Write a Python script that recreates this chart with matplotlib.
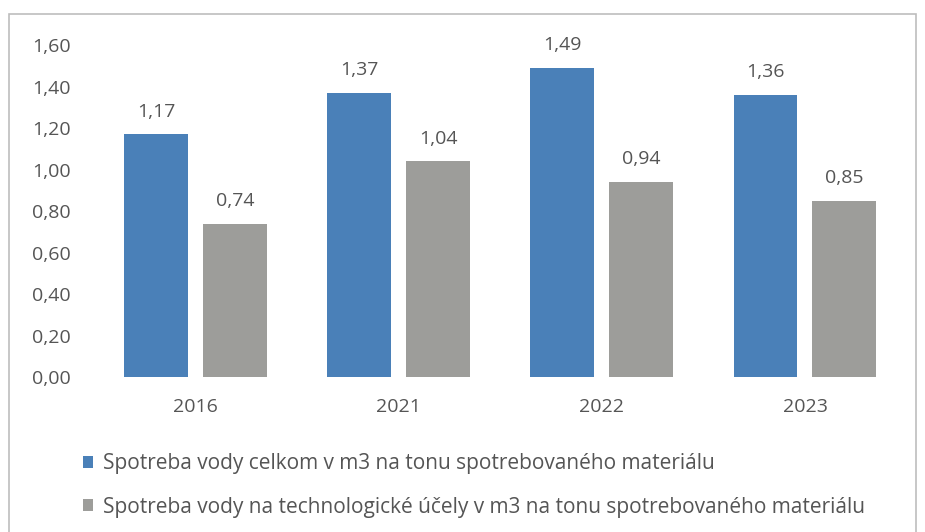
import numpy as np
import matplotlib.pyplot as plt
from matplotlib.patches import Rectangle

years = ["2016", "2021", "2022", "2023"]
total = [1.17, 1.37, 1.49, 1.36]
techno = [0.74, 1.04, 0.94, 0.85]
yticks = [0.0, 0.2, 0.4, 0.6, 0.8, 1.0, 1.2, 1.4, 1.6]
labels = ["Spotreba vody celkom v m3 na tonu spotrebovaného materiálu",
          "Spotreba vody na technologické účely v m3 na tonu spotrebovaného materiálu"]

blue = "#4a80b8"
gray = "#9d9d9a"
txt = "#555555"

plt.rcParams['font.family'] = ['Open Sans', 'DejaVu Sans']

fig = plt.figure(figsize=(9.25, 5.32), dpi=100)
ax = fig.add_axes([0.102, 0.291, 0.878, 0.624])

x = np.arange(len(years))
w = 0.315
b1 = ax.bar(x - w/2 - 0.037, total, w, color=blue, label=labels[0])
b2 = ax.bar(x + w/2 + 0.037, techno, w, color=gray, label=labels[1])

# value labels with decimal comma
for bars, vals in ((b1, total), (b2, techno)):
    for r, v in zip(bars, vals):
        ax.annotate(f"{v:.2f}".replace(".", ","), (r.get_x() + r.get_width()/2, v),
                    xytext=(0, 10), textcoords="offset points", ha="center",
                    va="bottom", fontsize=14, color=txt)

ax.set_xlim(-0.5, 3.5)
ax.set_ylim(0, 1.6)
ax.set_yticks(yticks)
ax.set_yticklabels([f"{t:.2f}".replace(".", ",") for t in yticks], fontsize=14, color=txt)
ax.set_xticks(x)
ax.set_xticklabels(years, fontsize=14, color=txt)
ax.tick_params(axis="y", length=0, pad=17)
ax.tick_params(axis="x", length=0, pad=15)
for s in ax.spines.values():
    s.set_visible(False)

fig.legend(handles=[b1, b2], loc="upper left", bbox_to_anchor=(83/925, 0.1476),
           frameon=False, fontsize=15, labelcolor=txt, handlelength=0.5,
           handleheight=0.5, handletextpad=0.48, labelspacing=1.07,
           borderaxespad=0, borderpad=0)

# thin frame around the whole chart
fig.patches.append(Rectangle((9/925, -0.01), 907/925, 1 - 14/532 + 0.01,
                             transform=fig.transFigure, fill=False,
                             edgecolor="#bdbdbd", linewidth=1.2))

fig.savefig("out.png")
